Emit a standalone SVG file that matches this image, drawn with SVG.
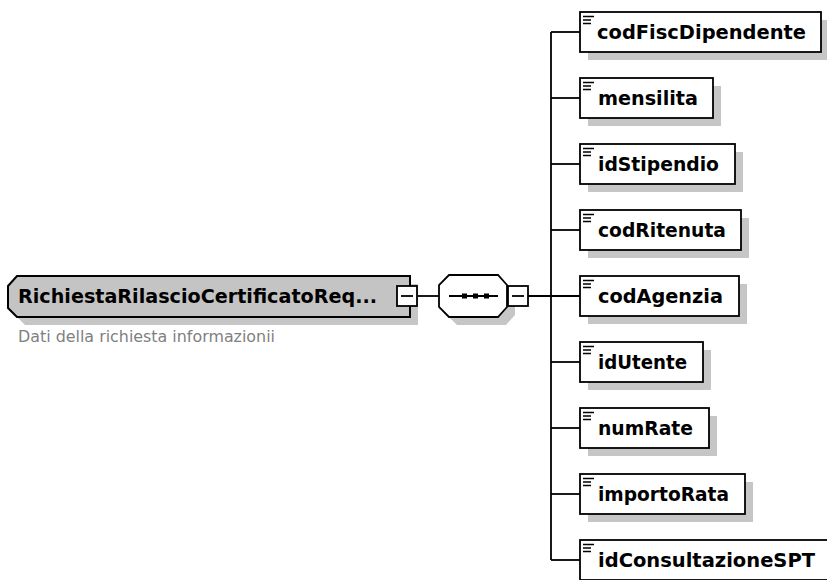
<svg xmlns="http://www.w3.org/2000/svg" width="827" height="580" viewBox="0 0 827 580">
<style>
.bg{fill:#ffffff}
.sh{fill:#c6c6c6;stroke:none}
.box{fill:#ffffff;stroke:#000000;stroke-width:1.8}
.main{fill:#c4c4c4;stroke:#000000;stroke-width:2}
.ln{stroke:#000000;stroke-width:1.8;fill:none}
.ic{stroke:#000000;stroke-width:1.5;fill:none}
.lbl{font-family:"DejaVu Sans",Verdana,sans-serif;font-weight:bold;font-size:20px;fill:#000000}
.desc{font-family:"DejaVu Sans",Verdana,sans-serif;font-size:16.5px;fill:#808080}
.dot{fill:#000000}
</style>
<rect class="bg" x="0" y="0" width="827" height="580"/>

<g id="connectors">
  <line class="ln" x1="417" y1="296" x2="439" y2="296"/>
  <line class="ln" x1="528" y1="296" x2="580" y2="296"/>
  <line class="ln" x1="551" y1="32" x2="551" y2="560"/>
  <line class="ln" x1="551" y1="32" x2="580" y2="32"/>
  <line class="ln" x1="551" y1="98" x2="580" y2="98"/>
  <line class="ln" x1="551" y1="164" x2="580" y2="164"/>
  <line class="ln" x1="551" y1="230" x2="580" y2="230"/>
  <line class="ln" x1="551" y1="362" x2="580" y2="362"/>
  <line class="ln" x1="551" y1="428" x2="580" y2="428"/>
  <line class="ln" x1="551" y1="494" x2="580" y2="494"/>
  <line class="ln" x1="551" y1="560" x2="580" y2="560"/>
</g>

<g id="RichiestaRilascioCertificatoRequest">
  <polygon class="sh" points="16,294 25,284 418,284 418,325 25,325 16,316"/>
  <polygon class="main" points="8,286 17,276 410,276 410,317 17,317 8,308"/>
  <text class="lbl" x="18" y="303" textLength="359" lengthAdjust="spacingAndGlyphs">RichiestaRilascioCertificatoReq...</text>
  <text class="desc" x="18" y="342" textLength="257" lengthAdjust="spacingAndGlyphs">Dati della richiesta informazionii</text>
  <rect class="box" x="397" y="286" width="20" height="20"/>
  <line class="ln" x1="401" y1="296" x2="413" y2="296"/>
</g>

<g id="sequence">
  <polygon class="sh" points="457,283 506,283 515,293 515,315 506,325 457,325 447,315 447,293"/>
  <polygon class="box" points="449,275 498,275 507,285 507,307 498,317 449,317 439,307 439,285"/>
  <line class="ln" x1="449" y1="296" x2="498" y2="296"/>
  <rect class="dot" x="462" y="293.5" width="5" height="5"/>
  <rect class="dot" x="473" y="293.5" width="5" height="5"/>
  <rect class="dot" x="484" y="293.5" width="5" height="5"/>
  <rect class="box" x="508" y="286" width="20" height="20"/>
  <line class="ln" x1="512" y1="296" x2="524" y2="296"/>
</g>

<g id="codFiscDipendente">
  <rect class="sh" x="588" y="20" width="241" height="40"/>
  <rect class="box" x="580" y="12" width="241" height="40"/>
  <path class="ic" d="M583 16.5H594M583 20H591M583 23.5H591"/>
  <text class="lbl" x="597" y="39" textLength="209" lengthAdjust="spacingAndGlyphs">codFiscDipendente</text>
</g>

<g id="mensilita">
  <rect class="sh" x="588" y="86" width="133" height="40"/>
  <rect class="box" x="580" y="78" width="133" height="40"/>
  <path class="ic" d="M583 82.5H594M583 86H591M583 89.5H591"/>
  <text class="lbl" x="598" y="105" textLength="100" lengthAdjust="spacingAndGlyphs">mensilita</text>
</g>

<g id="idStipendio">
  <rect class="sh" x="588" y="152" width="155" height="40"/>
  <rect class="box" x="580" y="144" width="155" height="40"/>
  <path class="ic" d="M583 148.5H594M583 152H591M583 155.5H591"/>
  <text class="lbl" x="598" y="171" textLength="121" lengthAdjust="spacingAndGlyphs">idStipendio</text>
</g>

<g id="codRitenuta">
  <rect class="sh" x="588" y="218" width="161" height="40"/>
  <rect class="box" x="580" y="210" width="161" height="40"/>
  <path class="ic" d="M583 214.5H594M583 218H591M583 221.5H591"/>
  <text class="lbl" x="598" y="237" textLength="128" lengthAdjust="spacingAndGlyphs">codRitenuta</text>
</g>

<g id="codAgenzia">
  <rect class="sh" x="588" y="284" width="159" height="40"/>
  <rect class="box" x="580" y="276" width="159" height="40"/>
  <path class="ic" d="M583 280.5H594M583 284H591M583 287.5H591"/>
  <text class="lbl" x="598" y="303" textLength="125" lengthAdjust="spacingAndGlyphs">codAgenzia</text>
</g>

<g id="idUtente">
  <rect class="sh" x="588" y="350" width="123" height="40"/>
  <rect class="box" x="580" y="342" width="123" height="40"/>
  <path class="ic" d="M583 346.5H594M583 350H591M583 353.5H591"/>
  <text class="lbl" x="598" y="369" textLength="89" lengthAdjust="spacingAndGlyphs">idUtente</text>
</g>

<g id="numRate">
  <rect class="sh" x="588" y="416" width="129" height="40"/>
  <rect class="box" x="580" y="408" width="129" height="40"/>
  <path class="ic" d="M583 412.5H594M583 416H591M583 419.5H591"/>
  <text class="lbl" x="598" y="435" textLength="95" lengthAdjust="spacingAndGlyphs">numRate</text>
</g>

<g id="importoRata">
  <rect class="sh" x="588" y="482" width="165" height="40"/>
  <rect class="box" x="580" y="474" width="165" height="40"/>
  <path class="ic" d="M583 478.5H594M583 482H591M583 485.5H591"/>
  <text class="lbl" x="598" y="501" textLength="131" lengthAdjust="spacingAndGlyphs">importoRata</text>
</g>

<g id="idConsultazioneSPT">
  <rect class="sh" x="588" y="548" width="243" height="40"/>
  <rect class="box" x="580" y="540" width="251" height="40"/>
  <path class="ic" d="M583 544.5H594M583 548H591M583 551.5H591"/>
  <text class="lbl" x="598" y="567" textLength="217" lengthAdjust="spacingAndGlyphs">idConsultazioneSPT</text>
</g>
</svg>
